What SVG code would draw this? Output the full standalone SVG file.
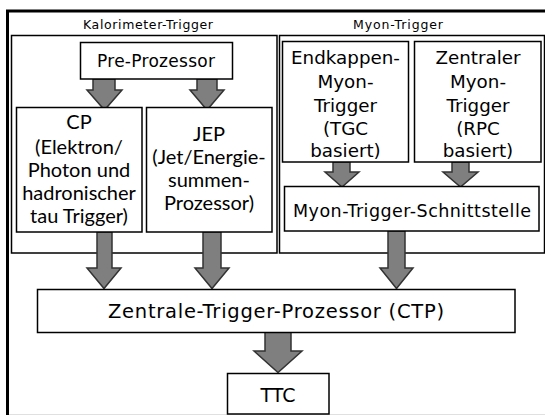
<svg xmlns="http://www.w3.org/2000/svg" width="545" height="415" viewBox="0 0 545 415">
<defs>
<style>
.box{fill:#fff;stroke:#000;stroke-width:1.5}
.grp{fill:none;stroke:#000;stroke-width:1.5}
.arr{fill:#7f7f7f;stroke:#333;stroke-width:1.5;stroke-linejoin:miter}
.t{font-family:"DejaVu Sans",Verdana,sans-serif;fill:#000;text-anchor:middle}
.g{font-family:Lato,"Open Sans",sans-serif;fill:#000;text-anchor:middle}
</style>
</defs>
<rect x="0" y="0" width="545" height="415" fill="#fff"/>
<line x1="7" y1="414.5" x2="545" y2="414.5" stroke="#e0e0e0" stroke-width="1"/>
<path d="M7.5,415 V11 H545" fill="none" stroke="#000" stroke-width="3"/>

<g id="kalorimeter-trigger">
<rect class="grp" x="11.5" y="35.5" width="265.5" height="217.5"/>
<text class="t" x="148" y="29" font-size="12.5" textLength="130" lengthAdjust="spacing">Kalorimeter-Trigger</text>
</g>
<g id="myon-trigger">
<rect class="grp" x="279.5" y="35.5" width="265" height="217.5"/>
<text class="t" x="398" y="29" font-size="12.5" textLength="90" lengthAdjust="spacing">Myon-Trigger</text>
</g>

<g id="connectors">
<path class="arr" d="M93,79 H115 V90 H122 L104.5,110 L87,90 H93 Z"/>
<path class="arr" d="M197,79 H217 V90 H224 L207,110 L190,90 H197 Z"/>
<path class="arr" d="M333,162 H350 V172 H359 L342,187 L325,172 H333 Z"/>
<path class="arr" d="M452,162 H469 V172 H478 L460.5,187 L443,172 H452 Z"/>
<path class="arr" d="M97,232 H112 V268 H121 L104,288.5 L87,268 H97 Z"/>
<path class="arr" d="M203,232 H221 V268 H229 L212,288.5 L195,268 H203 Z"/>
<path class="arr" d="M388,231 H405 V268 H413 L396.5,288.5 L380,268 H388 Z"/>
<path class="arr" d="M265,332 H291 V351 H302 L278,372.5 L254,351 H265 Z"/>
</g>

<g id="pre-prozessor">
<rect class="box" x="80.5" y="42.5" width="152" height="36.5"/>
<text class="t" x="156" y="67" font-size="17" textLength="118" lengthAdjust="spacing">Pre-Prozessor</text>
</g>

<g id="cp">
<rect class="box" x="16.5" y="107.5" width="125.5" height="124.5"/>
<text class="g" font-size="20"><tspan x="79" y="129">CP</tspan><tspan x="79" y="154">(Elektron/</tspan><tspan x="79" y="177">Photon und</tspan><tspan x="79" y="200">hadronischer</tspan><tspan x="79" y="223">tau Trigger)</tspan></text>
</g>

<g id="jep">
<rect class="box" x="146.5" y="107.5" width="125.5" height="124.5"/>
<text class="g" font-size="20"><tspan x="209" y="141">JEP</tspan><tspan x="209" y="164">(Jet/Energie-</tspan><tspan x="209" y="187">summen-</tspan><tspan x="209" y="210">Prozessor)</tspan></text>
</g>

<g id="endkappen">
<rect class="box" x="282.5" y="41.5" width="126" height="120.5"/>
<text class="t" font-size="18.3"><tspan x="345.5" y="63.5">Endkappen-</tspan><tspan x="345.5" y="87.5">Myon-</tspan><tspan x="345.5" y="111.5">Trigger</tspan><tspan x="345.5" y="134.5">(TGC</tspan><tspan x="345.5" y="157">basiert)</tspan></text>
</g>

<g id="zentraler">
<rect class="box" x="414.5" y="41.5" width="126.5" height="120.5"/>
<text class="t" font-size="18.3"><tspan x="478" y="63.5">Zentraler</tspan><tspan x="478" y="87.5">Myon-</tspan><tspan x="478" y="111.5">Trigger</tspan><tspan x="478" y="134.5">(RPC</tspan><tspan x="478" y="157">basiert)</tspan></text>
</g>

<g id="schnittstelle">
<rect class="box" x="284.5" y="186.5" width="254.5" height="44.5"/>
<text class="t" x="412" y="217" font-size="17.5" textLength="238" lengthAdjust="spacing">Myon-Trigger-Schnittstelle</text>
</g>

<g id="ctp">
<rect class="box" x="37.5" y="289.5" width="477.5" height="43"/>
<text class="t" x="276" y="318" font-size="19.5" textLength="336" lengthAdjust="spacing">Zentrale-Trigger-Prozessor (CTP)</text>
</g>

<g id="ttc">
<rect class="box" x="227.5" y="373.5" width="101.5" height="40.5"/>
<text class="t" x="278" y="402" font-size="19">TTC</text>
</g>
</svg>
